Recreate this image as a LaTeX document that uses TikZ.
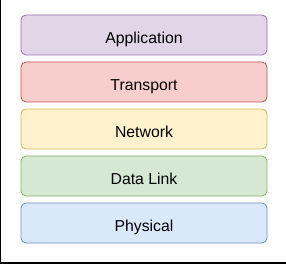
\documentclass[tikz,border=0pt]{standalone}
\usepackage{fontspec}
\setmainfont{Liberation Sans}
\usetikzlibrary{positioning}

\definecolor{appfill}{HTML}{E1D5E7}\definecolor{appline}{HTML}{9673A6}
\definecolor{trfill}{HTML}{F8CECC}\definecolor{trline}{HTML}{B85450}
\definecolor{netfill}{HTML}{FFF2CC}\definecolor{netline}{HTML}{D6B656}
\definecolor{dlfill}{HTML}{D5E8D4}\definecolor{dlline}{HTML}{82B366}
\definecolor{phyfill}{HTML}{DAE8FC}\definecolor{phyline}{HTML}{6C8EBF}

\begin{document}
\begin{tikzpicture}[x=1pt, y=1pt, every node/.style={font=\fontsize{15.8}{18}\selectfont}]
\tikzset{layer/.style={draw, rounded corners=5pt, line width=0.8pt, minimum width=246pt, minimum height=40pt, inner sep=0pt, text height=16.4pt, text depth=0pt}}
\useasboundingbox (0,0) rectangle (286,265);
\node[layer, fill=appfill, draw=appline] (app) at (144,230) {Application};
\node[layer, fill=trfill, draw=trline, below=6.2pt of app] (trans) {Transport};
\node[layer, fill=netfill, draw=netline, below=6.2pt of trans] (net) {Network};
\node[layer, fill=dlfill, draw=dlline, below=6.2pt of net] (link) {Data Link};
\node[layer, fill=phyfill, draw=phyline, below=6.2pt of link] (phys) {Physical};
% frame on the left and bottom
\coordinate (tl) at (0.7,265);
\coordinate (br) at (286,2);
\draw[line width=1.4pt] (tl) |- (br);
\end{tikzpicture}
\end{document}
